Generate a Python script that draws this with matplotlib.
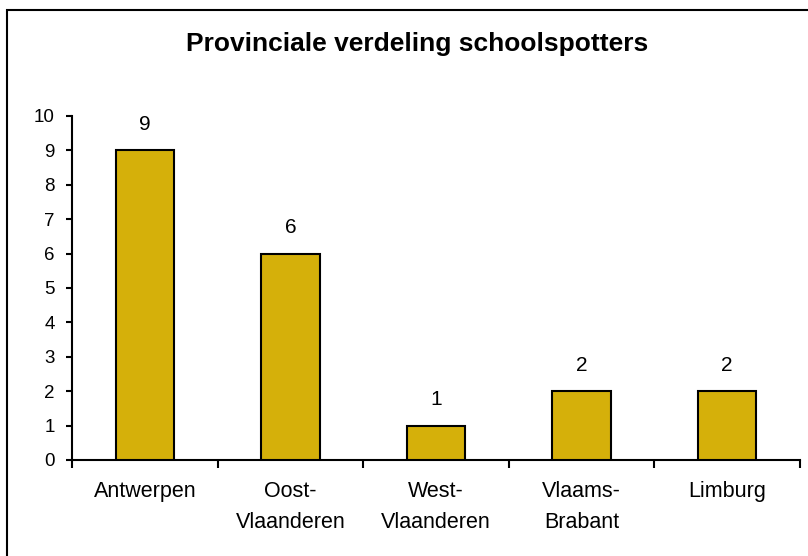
import matplotlib
matplotlib.use("Agg")
import matplotlib.pyplot as plt
from matplotlib.patches import Rectangle
import numpy as np

categories = ["Antwerpen", "Oost-\nVlaanderen", "West-\nVlaanderen", "Vlaams-\nBrabant", "Limburg"]
values = [9, 6, 1, 2, 2]
yticks = list(range(0, 11))
title = "Provinciale verdeling schoolspotters"

plt.rcParams['font.family'] = ['Liberation Sans', 'DejaVu Sans']

W, H = 808, 556
fig = plt.figure(figsize=(W/100, H/100), dpi=100)
ax = fig.add_axes([72/W, 1-460/H, (800-72)/W, (460-116)/H])

x = np.arange(len(categories))
bars = ax.bar(x, values, width=0.4, color='#D5B00A', edgecolor='black', linewidth=1.5, zorder=3)
for xi, v in zip(x, values):
    ax.annotate(str(v), (xi, v), xytext=(0, 12), textcoords='offset points',
                ha='center', va='bottom', fontsize=15)

ax.set_xlim(-0.5, len(categories)-0.5)
ax.set_ylim(0, 10)
ax.set_yticks(yticks)
ax.set_xticks(x)
ax.set_xticklabels(categories, fontsize=15.5, linespacing=1.65)
ax.set_xticks(np.arange(-0.5, len(categories), 1), minor=True)
ax.tick_params(axis='x', which='major', length=0, pad=15)
ax.tick_params(axis='x', which='minor', length=6, width=1.5, direction='out')
ax.tick_params(axis='y', length=4.5, width=1.5, direction='out', labelsize=13.5, pad=8)
for s in ['top', 'right']:
    ax.spines[s].set_visible(False)
for s in ['left', 'bottom']:
    ax.spines[s].set_linewidth(1.5)

fig.text(417/W, 1-44/H, title, ha='center', va='center', fontsize=19, fontweight='bold')

fig.patches.append(Rectangle((7/W, -0.5), 2, 0.5 + 1 - 10/H, transform=fig.transFigure,
                             fill=False, edgecolor='black', linewidth=1.5))

fig.savefig("out.png", dpi=100)
